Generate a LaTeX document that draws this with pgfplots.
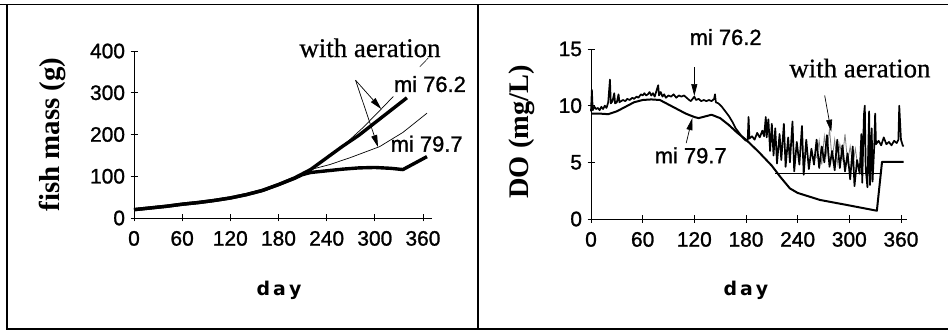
\documentclass[border=0pt]{standalone}
\usepackage{pgfplots}
\pgfplotsset{compat=1.18}
\usepackage{fontspec}
\setmainfont{Liberation Serif}
\newfontfamily\arial{Liberation Sans}[FakeBold=1.2]
\newfontfamily\tnr{Liberation Serif}[FakeBold=0.6]
\newfontfamily\dejavu{DejaVu Sans}
\usetikzlibrary{arrows.meta}

\tikzset{ann/.style={-{Triangle[length=12bp,width=6bp]}, line width=0.7bp}}
\pgfplotsset{
  myax/.style={
    scale only axis,
    axis lines=left,
    axis line style={-, line width=0.9bp},
    every outer x axis line/.append style={-},
    every outer y axis line/.append style={-},
    tick align=center,
    major tick length=7bp,
    tick style={line width=0.8bp, black},
    /pgf/number format/assume math mode=true,
    ticklabel style={font=\arial\fontsize{21}{21}\selectfont},
    xticklabel style={yshift=-6bp},
    yticklabel style={xshift=-2bp},
    xtick={0,60,120,180,240,300,360},
    clip=false,
    xlabel={\dejavu\bfseries\fontsize{19}{19}\selectfont d\hspace{3bp}a\hspace{3bp}y},
  },
}

\begin{document}
\begin{tikzpicture}
\useasboundingbox (0,0) rectangle (948bp,330bp);
% frame
\draw[line width=1.5bp] (0bp,325.5bp) -- (948bp,325.5bp);
\draw[line width=1.5bp] (6bp,1bp) -- (948bp,1bp);
\draw[line width=1.5bp] (7bp,1bp) -- (7bp,325.5bp);
\draw[line width=1.5bp] (478bp,1bp) -- (478bp,325.5bp);

% ---------------- left panel ----------------
\begin{axis}[myax,
  at={(134bp,112bp)}, anchor=south west,
  width=297.8bp, height=167bp,
  xmin=0, xmax=371, ymin=0, ymax=400,
  ytick={0,100,200,300,400},
  ylabel={\bfseries\fontsize{29}{29}\selectfont fish mass (g)},
  ylabel style={at={(axis description cs:-0.275,0.5)}, anchor=center},
  xlabel style={at={(axis description cs:0.487,-0.431)}, anchor=center},
]
% mi 76.2 (thick)
\addplot[black, line width=3.4bp, line join=round] coordinates {
(0,20) (20,24) (40,28) (60,33) (80,37) (100,42) (120,48) (140,56) (160,66)
(180,80) (200,96) (220,116) (240,144) (260,172) (280,198) (300,228) (320,258) (340,288)};
% mi 79.7 (thick)
\addplot[black, line width=3.4bp, line join=round] coordinates {
(0,20) (20,24) (40,28) (60,33) (80,37) (100,42) (120,48) (140,56) (160,66)
(180,80) (200,95) (210,104) (220,109) (240,113) (260,117) (280,120) (300,121)
(320,119) (335,116) (365,147)};
% with aeration (thin)
\addplot[black, line width=0.7bp] coordinates {
(240,146) (260,172) (285,216) (305,255) (323,291)};
\addplot[black, line width=0.7bp] coordinates {
(220,116) (244,128) (270,145) (306,171) (335,205) (365,251)};
% annotations
\node[anchor=base, font=\tnr\fontsize{27}{27}\selectfont] at (axis cs:294,385.6) {with aeration};
\draw[line width=0.5bp] (axis cs:366.5,383) -- (axis cs:356,362);
\node[anchor=base, font=\arial\fontsize{22}{22}\selectfont] at (axis cs:368.7,302) {mi 76.2};
\node[anchor=base, font=\arial\fontsize{22}{22}\selectfont] at (axis cs:364.6,159) {mi 79.7};
\draw[ann] (axis cs:276,330) -- (axis cs:308,261);
\draw[ann] (axis cs:276,330) -- (axis cs:304,170);
\end{axis}

% ---------------- right panel ----------------
\begin{axis}[myax,
  at={(591bp,111bp)}, anchor=south west,
  width=316bp, height=170bp,
  xmin=0, xmax=367, ymin=0, ymax=15,
  ytick={0,5,10,15},
  ylabel={\bfseries\fontsize{28.5}{28.5}\selectfont DO (mg/L)},
  ylabel style={at={(axis description cs:-0.218,0.512)}, anchor=center},
  xlabel style={at={(axis description cs:0.49,-0.418)}, anchor=center},
]
% mi 79.7 smooth
\addplot[black, line width=2bp, line join=round] coordinates {
(0,9.3) (10,9.3) (20,9.25) (30,9.5) (40,9.9) (50,10.3) (60,10.5) (70,10.55)
(80,10.5) (90,10.1) (100,9.7) (110,9.3) (120,9.0) (125,8.9) (130,9.0) (140,9.2)
(150,8.9) (160,8.3) (170,7.6) (180,7.0) (195,5.9) (210,4.7) (220,3.7) (231,2.7)
(240,2.3) (266,1.68) (297,1.24) (332,0.73) (338,5.05) (363,5.05)};
% with aeration floor
\addplot[black, line width=1.0bp] coordinates {(214,4.0) (336,4.0)};
% with aeration second noisy series (thin, grey)
\addplot[black!50, line width=0.8bp] coordinates {
(262,5.4) (265,6.9) (268,4.8) (271,7.3) (274,5.6) (277,8.0) (280,5.2) (283,7.0)
(286,4.9) (289,6.6) (292,5.3) (295,7.5) (298,5.0) (301,6.4) (304,4.7) (307,6.2) (310,4.6)};
% mi 76.2 noisy
\addplot[black, line width=1.7bp, line join=round] coordinates {
(0,9.5) (1,11.4) (2,9.6) (4,9.9) (6,9.7) (8,9.8) (10,9.6) (12,9.9) (14,9.7) (16,10.0)
(18,9.8) (20,10.3) (22,12.3) (23,10.2) (25,10.4) (27,11.1) (28,10.2) (30,10.3)
(32,11.0) (33,10.3) (35,10.4) (37,10.5) (40,10.4) (42,10.6) (45,10.5) (48,10.7)
(50,10.6) (53,10.8) (55,10.7) (58,11.0) (60,10.9) (62,11.1) (64,10.9) (66,11.0)
(68,11.2) (70,10.9) (72,11.1) (74,10.8) (76,11.3) (78,11.8) (79,10.9) (81,11.2)
(83,10.8) (85,11.0) (87,10.7) (90,10.9) (93,10.8) (96,11.0) (99,10.7) (102,10.9)
(105,10.8) (108,10.9) (111,10.7) (114,10.5) (116,10.4) (118,10.6) (120,10.8)
(122,10.5) (125,10.6) (128,10.4) (131,10.5) (134,10.4) (137,10.5) (140,10.4)
(143,10.6) (144,11.0) (145,10.3) (148,10.2) (152,9.9) (156,9.5) (160,9.1)
(164,8.6) (168,8.0) (172,7.6) (176,7.2) (180,6.9) (182,7.0) (183,9.0) (184,7.1)
(187,7.3) (190,7.0) (193,7.6) (196,7.2) (199,7.8) (201,7.3) (203,9.0) (204,7.2)
(206,8.8) (208,6.0) (210,8.4) (212,5.6) (214,8.0) (216,4.9) (219,7.5) (221,5.2)
(224,8.4) (226,4.6) (229,7.2) (231,5.0) (234,8.6) (236,4.2) (239,6.8) (242,4.8)
(245,8.2) (247,3.9) (250,7.0) (253,4.4) (256,6.2) (259,4.8) (262,7.0) (265,4.5)
(268,6.4) (271,5.0) (274,7.4) (277,4.6) (280,6.0) (283,4.3) (286,7.0) (289,4.5)
(292,6.5) (295,4.2) (298,5.8) (301,3.5) (304,6.4) (306,2.9) (309,5.2) (312,4.0)
(314,7.5) (315,3.2) (317,9.2) (318,10.0) (319,4.5) (321,2.8) (323,9.5) (324,3.0)
(326,8.0) (327,3.3) (329,6.5) (330,9.3) (331,6.6) (334,6.9) (337,6.5) (340,7.2)
(343,6.6) (346,6.8) (349,6.5) (352,6.9) (355,6.7) (357,7.0) (358,10.0) (360,7.0)
(362,6.5) (363,6.4)};
% annotations
\node[anchor=base, font=\arial\fontsize{22}{22}\selectfont] at (axis cs:156.4,15.36) {mi 76.2};
\node[anchor=base, font=\tnr\fontsize{27}{27}\selectfont] at (axis cs:312.3,12.5) {with aeration};
\node[anchor=base, font=\arial\fontsize{22}{22}\selectfont] at (axis cs:115.8,4.92) {mi 79.7};
\draw[ann] (axis cs:120,13.4) -- (axis cs:120,10.85);
\draw[ann] (axis cs:110.6,6.7) -- (axis cs:117.6,8.9);
\draw[ann] (axis cs:271.4,10.9) -- (axis cs:279,7.7);
\end{axis}
\end{tikzpicture}
\end{document}
